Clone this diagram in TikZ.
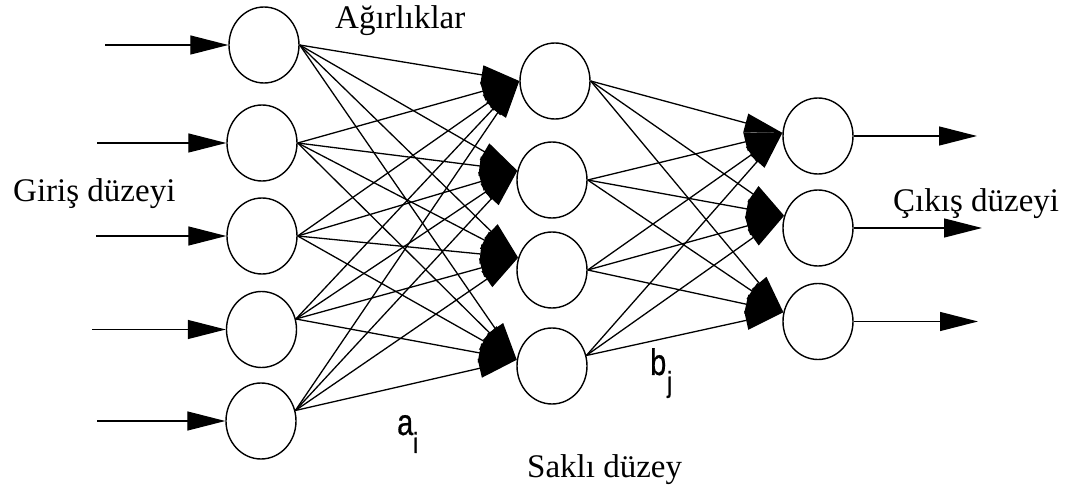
\documentclass[tikz,border=0pt]{standalone}
\usepackage{fontspec}
\setmainfont{Liberation Serif}
\newfontfamily\labfont[FakeStretch=0.78,FakeBold=0.6]{Liberation Sans}
\usetikzlibrary{arrows.meta,shapes.geometric}
\begin{document}
\begin{tikzpicture}[x=1pt,y=-1pt,
  neuron/.style={draw,ellipse,minimum width=70pt,minimum height=76pt,inner sep=0pt,line width=1.4pt},
  conn/.style={line width=1.3pt,-{Triangle[length=38pt,width=19pt]}},
  lbl/.style={font=\fontsize{33}{40}\selectfont,inner sep=0pt,anchor=base west},
  big/.style={font=\labfont\fontsize{37}{40}\selectfont,inner sep=0pt,anchor=base west},
  small/.style={font=\labfont\fontsize{29}{32}\selectfont,inner sep=0pt,anchor=base west}]
\useasboundingbox (0,0) rectangle (1080,494);
% input layer
\node[neuron] (i1) at (264,45) {};
\node[neuron] (i2) at (262,143) {};
\node[neuron] (i3) at (262,236) {};
\node[neuron] (i4) at (261.5,329.5) {};
\node[neuron] (i5) at (261,421) {};
% hidden layer
\node[neuron] (h1) at (555,81) {};
\node[neuron] (h2) at (552,180) {};
\node[neuron] (h3) at (552,270) {};
\node[neuron] (h4) at (552,366) {};
% output layer
\node[neuron] (o1) at (818,136) {};
\node[neuron] (o2) at (818,228) {};
\node[neuron] (o3) at (818,321.5) {};
% input arrows
\coordinate (s1) at (105,45);
\coordinate (s2) at (97,143);
\coordinate (s3) at (96,236);
\coordinate (s4) at (92,329.5);
\coordinate (s5) at (97,421);
\foreach \k in {1,...,5} \draw[conn] (s\k) -- (i\k.west);
% output arrows
\coordinate (e1) at (977,136);
\coordinate (e2) at (982,228);
\coordinate (e3) at (978,321.5);
\foreach \k in {1,2,3} \draw[conn] (o\k.east) -- (e\k);
% input -> hidden
\foreach \s in {i1.east,i2.east,i3.east,i4.17,i5.17}
  \foreach \t in {h1.west,h2.165,h3.160,h4.170}
    \draw[conn] (\s) -- (\t);
% hidden -> output
\foreach \s in {h1.east,h2.east,h3.east,h4.17}
  \foreach \t in {o1.175,o2.160,o3.165}
    \draw[conn] (\s) -- (\t);
% labels
\node[lbl] (tw) at (335,29) {Ağırlıklar};
\node[lbl] (tin) at (13,202) {Giriş düzeyi};
\node[lbl] (tout) at (893,212) {Çıkış düzeyi};
\node[lbl] (thid) at (527,478) {Saklı düzey};
\node[big] (ta) at (397,435) {a};
\node[small] (tai) at (413,453) {i};
\node[big] (tb) at (650,375) {b};
\node[small] (tbj) at (667,392) {j};
\end{tikzpicture}
\end{document}
